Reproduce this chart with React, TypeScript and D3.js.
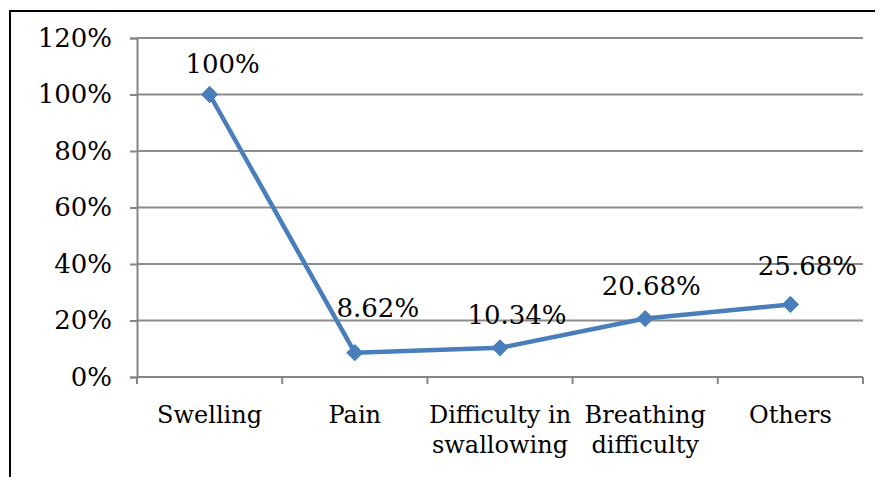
import React, { useRef, useEffect } from "react";
import * as d3 from "d3";

const categories = ["Swelling", "Pain", "Difficulty in swallowing", "Breathing difficulty", "Others"];
const categoryLines = [["Swelling"], ["Pain"], ["Difficulty in", "swallowing"], ["Breathing", "difficulty"], ["Others"]];
const values = [100, 8.62, 10.34, 20.68, 25.68];
const valueLabels = ["100%", "8.62%", "10.34%", "20.68%", "25.68%"];
const yTicks = [0, 20, 40, 60, 80, 100, 120];

// label nudges (px) relative to each point, as placed in the original
const labelDx = [13, 23, 17, 6, 17];
const labelDy = [-22, -36, -24, -24, -29];

const width = 883;
const height = 485;
const font = "'DejaVu Serif', serif";

const LineChart = () => {
  const svgRef = useRef<SVGSVGElement>(null);

  useEffect(() => {
    const svg = d3.select(svgRef.current);
    svg.selectAll("*").remove();

    // outer frame
    svg.append("rect").attr("width", width).attr("height", height).attr("fill", "#fff");
    svg.append("line").attr("x1", 10).attr("x2", 10).attr("y1", 10).attr("y2", height).attr("stroke", "#000").attr("stroke-width", 2);
    svg.append("line").attr("x1", 10).attr("x2", width).attr("y1", 11).attr("y2", 11).attr("stroke", "#000").attr("stroke-width", 2);
    svg.append("line").attr("x1", 10).attr("x2", width).attr("y1", 484).attr("y2", 484).attr("stroke", "#ddd").attr("stroke-width", 1);

    const margin = { top: 38, left: 137, right: 20, bottom: 108 };
    const innerW = width - margin.left - margin.right;
    const innerH = height - margin.top - margin.bottom;

    const x = d3.scaleBand().domain(categories).range([0, innerW]);
    const y = d3.scaleLinear().domain([0, 120]).range([innerH, 0]);

    const g = svg.append("g").attr("transform", `translate(${margin.left},${margin.top})`);

    // gridlines
    g.selectAll(".grid")
      .data(yTicks.filter(t => t > 0))
      .enter()
      .append("line")
      .attr("x1", 0)
      .attr("x2", innerW)
      .attr("y1", d => y(d))
      .attr("y2", d => y(d))
      .attr("stroke", "#8c8c8c")
      .attr("stroke-width", 2);

    // y axis
    const yAxis = g.append("g")
      .call(d3.axisLeft(y).tickValues(yTicks).tickFormat(d => `${d}%`).tickSize(7).tickPadding(18));
    yAxis.selectAll("line").attr("stroke", "#868686").attr("stroke-width", 2);
    yAxis.select(".domain").attr("stroke", "#868686").attr("stroke-width", 2);
    yAxis.selectAll("text").attr("font-family", font).attr("font-size", 26).attr("fill", "#000");

    // x axis
    const xAxis = g.append("g").attr("transform", `translate(0,${innerH})`);
    xAxis.append("line").attr("x1", 0).attr("x2", innerW).attr("stroke", "#868686").attr("stroke-width", 2);
    xAxis.selectAll(".tick")
      .data(d3.range(categories.length + 1))
      .enter()
      .append("line")
      .attr("x1", i => (i * innerW) / categories.length)
      .attr("x2", i => (i * innerW) / categories.length)
      .attr("y1", 0)
      .attr("y2", 7)
      .attr("stroke", "#868686")
      .attr("stroke-width", 2);

    categories.forEach((c, i) => {
      const t = xAxis.append("text")
        .attr("x", x(c)! + x.bandwidth() / 2)
        .attr("y", 46)
        .attr("text-anchor", "middle")
        .attr("font-family", font)
        .attr("font-size", 24)
        .attr("fill", "#000");
      categoryLines[i].forEach((ln, j) => {
        t.append("tspan").attr("x", x(c)! + x.bandwidth() / 2).attr("dy", j === 0 ? 0 : 30).text(ln);
      });
    });

    const cx = (i: number) => x(categories[i])! + x.bandwidth() / 2;

    // line
    const line = d3.line<number>().x((_, i) => cx(i)).y(d => y(d));
    g.append("path")
      .datum(values)
      .attr("d", line)
      .attr("fill", "none")
      .attr("stroke", "#4a7ebb")
      .attr("stroke-width", 4.5)
      .attr("stroke-linejoin", "round");

    // markers
    g.selectAll(".marker")
      .data(values)
      .enter()
      .append("path")
      .attr("d", d3.symbol(d3.symbolDiamond2, 190))
      .attr("transform", (d, i) => `translate(${cx(i)},${y(d)})`)
      .attr("fill", "#4a7ebb");

    // value labels
    g.selectAll(".vlabel")
      .data(values)
      .enter()
      .append("text")
      .attr("x", (d, i) => cx(i) + labelDx[i])
      .attr("y", (d, i) => y(d) + labelDy[i])
      .attr("text-anchor", "middle")
      .attr("font-family", font)
      .attr("font-size", 26)
      .attr("fill", "#000")
      .text((d, i) => valueLabels[i]);
  }, []);

  return <svg ref={svgRef} width={width} height={height} style={{ display: "block" }} />;
};

export default function App() {
  return (
    <div style={{ margin: -8 }}>
      <LineChart />
    </div>
  );
}
